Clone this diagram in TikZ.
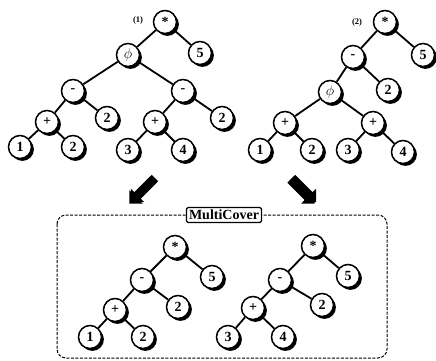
\documentclass[tikz,border=0pt]{standalone}
\usepackage{fontspec}
\setmainfont{Liberation Serif}
\usetikzlibrary{shadows,shapes.arrows}
\begin{document}
\begin{tikzpicture}[x=1pt,y=-1pt,
  tn/.style={circle,draw,fill=white,line width=1.5pt,minimum size=23pt,inner sep=0pt,
    font=\bfseries\fontsize{14}{14}\selectfont,
    drop shadow={shadow xshift=2.4pt,shadow yshift=-2.4pt,opacity=1,fill=black}},
  ed/.style={line width=1.8pt},
  lbl/.style={font=\bfseries\fontsize{8.5}{8.5}\selectfont},
  bigarrow/.style={single arrow,fill=black,minimum height=34pt,minimum width=19pt,single arrow head extend=3pt,inner sep=2.5pt,
    drop shadow={shadow xshift=1.5pt,shadow yshift=1.5pt,opacity=1,fill=black}}]
\useasboundingbox (0,0) rectangle (436,361);
% ---- tree (1)
\node[tn] (a1) at (165,22) {*};
\node[lbl] (l1) at (138,20) {(1)};
\node[tn] (a2) at (128,55) {$\phi$};
\node[tn] (a3) at (200,53) {5};
\node[tn] (a4) at (73,91) {-};
\node[tn] (a5) at (183,91) {-};
\node[tn] (a6) at (47,122) {+};
\node[tn] (a7) at (107,118) {2};
\node[tn] (a8) at (20,147) {1};
\node[tn] (a9) at (73,147) {2};
\node[tn] (a10) at (155,122) {+};
\node[tn] (a11) at (222,118) {2};
\node[tn] (a12) at (128,150) {3};
\node[tn] (a13) at (183,150) {4};
\draw[ed] (a1)--(a2) (a1)--(a3) (a2)--(a4) (a2)--(a5) (a4)--(a6) (a4)--(a7)
  (a6)--(a8) (a6)--(a9) (a5)--(a10) (a5)--(a11) (a10)--(a12) (a10)--(a13);
% ---- tree (2)
\node[tn] (b1) at (385,22) {*};
\node[lbl] (l2) at (357,22) {(2)};
\node[tn] (b2) at (353,57) {-};
\node[tn] (b3) at (423,55) {5};
\node[tn] (b4) at (330,92) {$\phi$};
\node[tn] (b5) at (388,90) {2};
\node[tn] (b6) at (285,123) {+};
\node[tn] (b7) at (373,123) {+};
\node[tn] (b8) at (260,150) {1};
\node[tn] (b9) at (312,150) {2};
\node[tn] (b10) at (348,150) {3};
\node[tn] (b11) at (403,152) {4};
\draw[ed] (b1)--(b2) (b1)--(b3) (b2)--(b4) (b2)--(b5) (b4)--(b6) (b4)--(b7)
  (b6)--(b8) (b6)--(b9) (b7)--(b10) (b7)--(b11);
% ---- arrows
\node[bigarrow,rotate=-135] (ar1) at (143,190) {};
\node[bigarrow,rotate=-45] (ar2) at (301,190) {};
% ---- MultiCover box
\draw[line width=1pt,dash pattern=on 3pt off 1.5pt,rounded corners=9pt] (57,215) rectangle (387,358);
\node[draw,fill=white,line width=1.3pt,rounded corners=1.5pt,inner sep=2.5pt,
  font=\bfseries\fontsize{14}{14}\selectfont] (mc) at (224,215) {MultiCover};
% ---- bottom left tree
\node[tn] (c1) at (175,247) {*};
\node[tn] (c2) at (142,280) {-};
\node[tn] (c3) at (212,277) {5};
\node[tn] (c4) at (115,310) {+};
\node[tn] (c5) at (178,307) {2};
\node[tn] (c6) at (90,337) {1};
\node[tn] (c7) at (143,337) {2};
\draw[ed] (c1)--(c2) (c1)--(c3) (c2)--(c4) (c2)--(c5) (c4)--(c6) (c4)--(c7);
% ---- bottom right tree
\node[tn] (d1) at (313,246) {*};
\node[tn] (d2) at (280,280) {-};
\node[tn] (d3) at (348,276) {5};
\node[tn] (d4) at (253,308) {+};
\node[tn] (d5) at (322,305) {2};
\node[tn] (d6) at (228,337) {3};
\node[tn] (d7) at (283,337) {4};
\draw[ed] (d1)--(d2) (d1)--(d3) (d2)--(d4) (d2)--(d5) (d4)--(d6) (d4)--(d7);
\end{tikzpicture}
\end{document}
